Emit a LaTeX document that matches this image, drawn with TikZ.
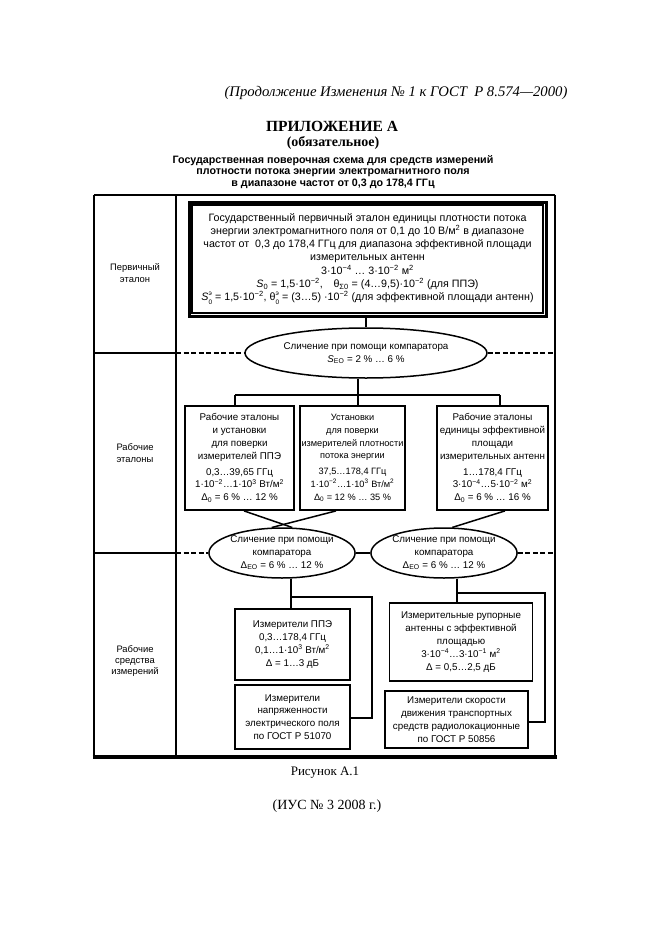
\documentclass[tikz,border=0pt]{standalone}
\usepackage{fontspec}
\setmainfont{Liberation Serif}
\setsansfont{Liberation Sans}
\usetikzlibrary{shapes.geometric,calc}
\newcommand\su[1]{\textsuperscript{#1}}
\newcommand\lo[1]{\textsubscript{#1}}
\newcommand\supsub[2]{\rlap{\raisebox{1.0ex}{\fontsize{6.5}{6.5}\selectfont #1}}\raisebox{-0.7ex}{\fontsize{6.5}{6.5}\selectfont #2}}
\newcommand\bxf{\sffamily\fontsize{9.8}{12.8}\selectfont}
\newcommand\pbf{\sffamily\fontsize{10.7}{13.3}\selectfont}
\newcommand\labf{\sffamily\fontsize{9.4}{11.2}\selectfont}
\begin{document}
\begin{tikzpicture}[x=1pt,y=-1pt,
  tbl/.style={line width=1.5pt},
  conn/.style={line width=1.5pt},
  dconn/.style={line width=1.5pt,dash pattern=on 5pt off 2.5pt},
  box/.style={draw,line width=1.8pt,rectangle,align=center,inner sep=0pt,font=\bxf},
  oval/.style={draw,ellipse,line width=1.5pt,align=center,inner sep=0pt,font=\bxf},
  lab/.style={align=center,font=\labf}]
\useasboundingbox[fill=white] (0,0) rectangle (661,936);

% headers
\node[font=\fontsize{14.7}{17}\selectfont\itshape] (h1) at (396,93) {(Продолжение Изменения № 1 к ГОСТ\ \ Р 8.574—2000)};
\node[font=\fontsize{15.5}{17}\selectfont\bfseries] (h2) at (332,126) {ПРИЛОЖЕНИЕ А};
\node[font=\fontsize{14}{15}\selectfont\bfseries] (h3) at (333,143) {(обязательное)};
\node[font=\sffamily\bfseries\fontsize{10.7}{11.8}\selectfont,align=center] (h4) at (333,172)
  {Государственная поверочная схема для средств измерений\\
   плотности потока энергии электромагнитного поля\\
   в диапазоне частот от 0,3 до 178,4 ГГц};

% table
\draw[tbl] (94,195) -- (555,195);
\draw[tbl] (94,195) -- (94,757);
\draw[tbl] (555,195) -- (555,757);
\draw[line width=3.2pt] (92.5,757) -- (556.5,757);
\draw[tbl] (176,195) -- (176,757);
\draw[tbl] (94,353) -- (176,353);
\draw[tbl] (94,553) -- (176,553);

\node[lab] (l1) at (135,273) {Первичный\\эталон};
\node[lab] (l2) at (135,453) {Рабочие\\эталоны};
\node[lab] (l3) at (135,661) {Рабочие\\средства\\измерений};

% primary standard
\node[box,font=\pbf,line width=3pt,minimum width=357pt,minimum height=114pt] (P) at (367.5,259)
 {Государственный первичный эталон единицы плотности потока\\
  энергии электромагнитного поля от 0,1 до 10 В/м\su{2} в диапазоне\\
  частот от\ \ 0,3 до 178,4 ГГц для диапазона эффективной площади\\
  измерительных антенн\\
  3·10\su{−4} … 3·10\su{−2} м\su{2}\\
  \textit{S}\lo{0} = 1,5·10\su{−2},\quad θ\lo{Σ0} = (4…9,5)·10\su{−2} (для ППЭ)\\
  \textit{S}\supsub{э}{0} = 1,5·10\su{−2},\ θ\supsub{э}{0} = (3…5) ·10\su{−2} (для эффективной площади антенн)};
\draw[line width=1.3pt] ([shift={(4.5,4.5)}]P.north west) rectangle ([shift={(-4.5,-4.5)}]P.south east);

% comparator ellipse
\node[oval,minimum width=242pt,minimum height=50pt] (E0) at (366,353)
 {Сличение при помощи компаратора\\ \textit{S}\lo{EO} = 2 \% … 6 \%};
\draw[conn] (P.south -| E0.north) -- (E0.north);
\draw[dconn] (176,353) -- (E0.west);
\draw[dconn] (E0.east) -- (555,353);

% working standards
\node[box,minimum width=109pt,minimum height=104pt] (B1) at (239.5,458)
 {Рабочие эталоны\\и установки\\для поверки\\измерителей ППЭ\\[3pt]
  0,3…39,65 ГГц\\1·10\su{−2}…1·10\su{3} Вт/м\su{2}\\Δ\lo{0} = 6 \% … 12 \%};
\node[box,font=\sffamily\fontsize{9.2}{12.8}\selectfont,minimum width=105pt,minimum height=104pt] (B2) at (352.5,458)
 {Установки\\для поверки\\измерителей плотности\\потока энергии\\[3pt]
  37,5…178,4 ГГц\\1·10\su{−2}…1·10\su{3} Вт/м\su{2}\\Δ\lo{0} = 12 \% … 35 \%};
\node[box,minimum width=111pt,minimum height=104pt] (B3) at (492.5,458)
 {Рабочие эталоны\\единицы эффективной\\площади\\измерительных антенн\\[3pt]
  1…178,4 ГГц\\3·10\su{−4}…5·10\su{−2} м\su{2}\\Δ\lo{0} = 6 \% … 16 \%};

\coordinate (hL) at (235,395);
\coordinate (hR) at (500,395);
\coordinate (hM) at (358,395);
\draw[conn] (E0.south -| hM) -- (hM);
\draw[conn] (hL) -- (hR);
\draw[conn] (hL) -- (B1.north -| hL);
\draw[conn] (hM) -- (B2.north -| hM);
\draw[conn] (hR) -- (B3.north -| hR);

% lower comparators
\node[oval,minimum width=140pt,minimum height=50pt] (E1) at (282,553)
 {Сличение при помощи\\компаратора\\Δ\lo{EO} = 6 \% … 12 \%};
\node[oval,minimum width=136pt,minimum height=50pt] (E2) at (444,553)
 {Сличение при помощи\\компаратора\\Δ\lo{EO} = 6 \% … 12 \%};
\draw[dconn] (176,553) -- (E1.west);
\draw[conn] (E1.east) -- (E2.west);
\draw[dconn] (E2.east) -- (555,553);
\draw[conn] (B1.south -| 244,0) -- (E1.68);
\draw[conn] (B2.south -| 336,0) -- (E1.112);
\draw[conn] (B3.south -| 505,0) -- (E2.72);

% measuring instruments
\node[box,minimum width=115pt,minimum height=71pt] (M1) at (292.5,644.5)
 {Измерители ППЭ\\0,3…178,4 ГГц\\0,1…1·10\su{3} Вт/м\su{2}\\Δ = 1…3 дБ};
\node[box,minimum width=115pt,minimum height=64pt] (M2) at (292.5,717)
 {Измерители\\напряженности\\электрического поля\\по ГОСТ Р 51070};
\node[box,minimum width=143pt,minimum height=78pt] (M3) at (461,642)
 {Измерительные рупорные\\антенны с эффективной\\площадью\\3·10\su{−4}…3·10\su{−1} м\su{2}\\Δ = 0,5…2,5 дБ};
\node[box,minimum width=143pt,minimum height=57pt] (M4) at (456.5,719.5)
 {Измерители скорости\\движения транспортных\\средств радиолокационные\\по ГОСТ Р 50856};

\coordinate (a1) at (291,597);
\coordinate (a2) at (372,597);
\coordinate (a3) at (372,718);
\draw[conn] (E1.south -| a1) -- (M1.north -| a1);
\draw[conn] (a1) -- (a2) -- (a3) -- (M2.east |- a3);
\coordinate (b1) at (457,593);
\coordinate (b2) at (545,593);
\coordinate (b3) at (545,722);
\draw[conn] (E2.south -| b1) -- (M3.north -| b1);
\draw[conn] (b1) -- (b2) -- (b3) -- (M4.east |- b3);

% caption
\node[font=\fontsize{13}{15}\selectfont] (c1) at (325,773) {Рисунок А.1};
\node[font=\fontsize{14}{15}\selectfont] (c2) at (327,806) {(ИУС № 3 2008 г.)};
\end{tikzpicture}
\end{document}
